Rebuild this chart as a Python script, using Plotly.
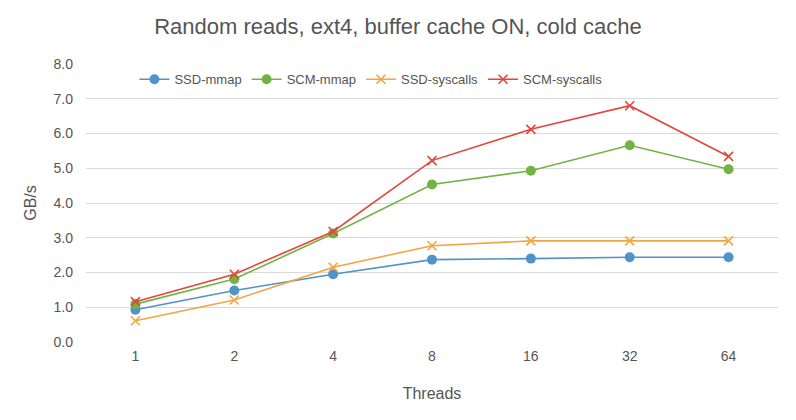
import plotly.graph_objects as go

threads = ["1", "2", "4", "8", "16", "32", "64"]
ssd_mmap = [0.93, 1.48, 1.95, 2.37, 2.40, 2.44, 2.44]
scm_mmap = [1.09, 1.81, 3.12, 4.53, 4.93, 5.66, 4.97]
ssd_syscalls = [0.61, 1.21, 2.15, 2.77, 2.91, 2.91, 2.91]
scm_syscalls = [1.16, 1.95, 3.18, 5.22, 6.12, 6.80, 5.34]

FONT = "Liberation Sans, Arial, sans-serif"

series = [
    ("SSD-mmap", ssd_mmap, "#4f93c9", "circle"),
    ("SCM-mmap", scm_mmap, "#72b443", "circle"),
    ("SSD-syscalls", ssd_syscalls, "#f3a541", "x-thin"),
    ("SCM-syscalls", scm_syscalls, "#e2463c", "x-thin"),
]

fig = go.Figure()
for name, vals, color, sym in series:
    if sym == "circle":
        marker = dict(symbol="circle", size=10, color=color)
    else:
        marker = dict(symbol="x-thin", size=9, color=color,
                      line=dict(color=color, width=1.6))
    fig.add_trace(go.Scatter(x=threads, y=vals, name=name, mode="lines+markers",
                             line=dict(color=color, width=1.6), marker=marker))

fig.update_layout(
    width=796, height=420,
    paper_bgcolor="white", plot_bgcolor="white",
    margin=dict(l=86, r=18, t=64, b=78),
    font=dict(family=FONT, size=13, color="#555555"),
    title=dict(text="Random reads, ext4, buffer cache ON, cold cache",
               x=0.5, xanchor="center", y=0.937, yanchor="middle",
               font=dict(size=22, color="#555555")),
    legend=dict(orientation="h", x=0.07, xanchor="left", y=0.945, yanchor="middle",
                bgcolor="rgba(255,255,255,0)", font=dict(size=13, color="#555555"),
                tracegroupgap=0),
    showlegend=True,
)
fig.update_xaxes(type="category", range=[-0.5, len(threads) - 0.5],
                 showgrid=False, zeroline=False, showline=False,
                 ticks="", ticklabelstandoff=4, tickfont=dict(size=14, color="#555555"),
                 title=dict(text="Threads", font=dict(size=16, color="#555555"), standoff=24))
fig.update_yaxes(range=[0, 8], dtick=1, tickformat=".1f", showgrid=True,
                 gridcolor="#d9d9d9", gridwidth=1.2, zeroline=False, showline=False,
                 ticks="", ticklabelstandoff=12, tickfont=dict(size=14, color="#555555"),
                 title=dict(text="GB/s", font=dict(size=16, color="#555555"), standoff=12))

fig.write_html("out.html", config={"displayModeBar": False},
               post_script="document.body.style.margin='0';")
